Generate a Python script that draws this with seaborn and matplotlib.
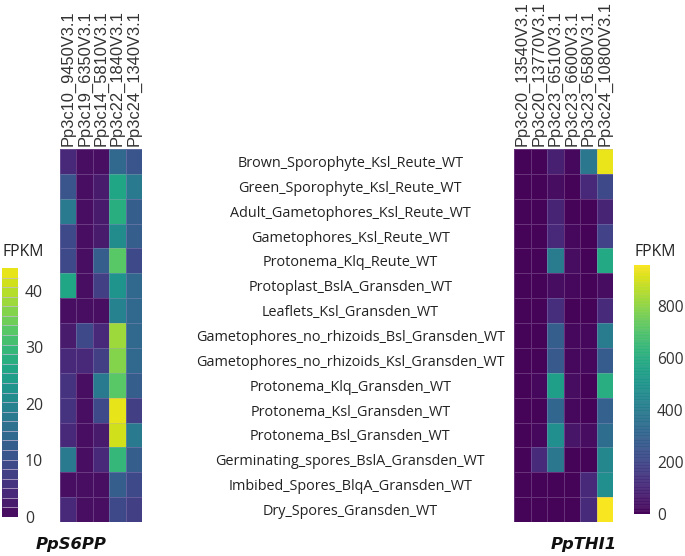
import matplotlib
matplotlib.use('Agg')
import matplotlib.pyplot as plt
import seaborn as sns
import pandas as pd

# sample labels, top to bottom
samples = ['Brown_Sporophyte_Ksl_Reute_WT', 'Green_Sporophyte_Ksl_Reute_WT',
           'Adult_Gametophores_Ksl_Reute_WT', 'Gametophores_Ksl_Reute_WT',
           'Protonema_Klq_Reute_WT', 'Protoplast_BslA_Gransden_WT',
           'Leaflets_Ksl_Gransden_WT', 'Gametophores_no_rhizoids_Bsl_Gransden_WT',
           'Gametophores_no_rhizoids_Ksl_Gransden_WT', 'Protonema_Klq_Gransden_WT',
           'Protonema_Ksl_Gransden_WT', 'Protonema_Bsl_Gransden_WT',
           'Germinating_spores_BslA_Gransden_WT', 'Imbibed_Spores_BlqA_Gransden_WT',
           'Dry_Spores_Gransden_WT']

# PpS6PP genes
s6pp_genes = ['Pp3c10_9450V3.1', 'Pp3c19_6350V3.1', 'Pp3c14_5810V3.1',
              'Pp3c22_1840V3.1', 'Pp3c24_1340V3.1']
c10_9450 = [4, 11, 18, 10, 10, 27, 0.3, 3, 4, 6, 6, 5, 17, 1.5, 5]
c19_6350 = [0.3, 0.2, 1.5, 0.2, 0.2, 0.5, 0.3, 10, 4, 0.2, 0.2, 0.2, 0.2, 0.3, 0.2]
c14_5810 = [0.2, 2.5, 2.5, 2.5, 13, 7, 1.5, 4, 7, 18, 10, 2.5, 5, 0.3, 0.3]
c22_1840 = [15, 27, 28, 21, 33, 23, 19, 38.5, 36.5, 33, 44, 42, 29.5, 13, 9]
c24_1340 = [11, 18, 12, 12, 10, 14, 14, 15, 14, 12, 8, 18.5, 12, 10, 8]

# PpTHI1 genes
thi1_genes = ['Pp3c20_13540V3.1', 'Pp3c20_13770V3.1', 'Pp3c23_6510V3.1',
              'Pp3c23_6600V3.1', 'Pp3c23_6580V3.1', 'Pp3c24_10800V3.1']
c20_13540 = [2, 2, 2, 2, 2, 2, 2, 2, 2, 2, 2, 2, 2, 2, 2]
c20_13770 = [2, 2, 2, 2, 2, 2, 2, 2, 2, 15, 2, 20, 110, 2, 2]
c23_6510 = [80, 30, 90, 100, 400, 30, 120, 280, 260, 540, 310, 470, 380, 5, 5]
c23_6600 = [15, 5, 5, 15, 30, 15, 5, 20, 20, 25, 20, 50, 5, 5, 5]
c23_6580 = [380, 100, 2, 5, 5, 10, 5, 15, 15, 10, 10, 30, 5, 100, 110]
c24_10800 = [930, 210, 90, 190, 580, 30, 110, 400, 270, 600, 290, 340, 440, 470, 960]

left_ticks = [0, 10, 20, 30, 40]
right_ticks = [0, 200, 400, 600, 800]

df_s6pp = pd.DataFrame(dict(zip(s6pp_genes, [c10_9450, c19_6350, c14_5810, c22_1840, c24_1340])), index=samples)
df_thi1 = pd.DataFrame(dict(zip(thi1_genes, [c20_13540, c20_13770, c23_6510, c23_6600, c23_6580, c24_10800])), index=samples)

W, H = 685, 556


def box(x0, y0, x1, y1):
    # pixel box (top-left origin) to figure fractions
    return [x0 / W, 1 - y1 / H, (x1 - x0) / W, (y1 - y0) / H]


fig = plt.figure(figsize=(W / 100, H / 100), dpi=100)
ax1 = fig.add_axes(box(60, 149, 142, 522))
ax2 = fig.add_axes(box(514, 149, 613, 522))
cax1 = fig.add_axes(box(2, 268, 18, 517))
cax2 = fig.add_axes(box(634, 265, 650, 514))

grid = (0.72, 0.62, 0.80, 0.3)  # faint lilac cell borders
sns.heatmap(df_s6pp, ax=ax1, cbar_ax=cax1, cmap=sns.color_palette('viridis', 26), vmin=0, vmax=44,
            linewidths=0.6, linecolor=grid, xticklabels=True, yticklabels=True,
            cbar_kws={'ticks': left_ticks, 'drawedges': True})
sns.heatmap(df_thi1, ax=ax2, cbar_ax=cax2, cmap=sns.color_palette('viridis', 90), vmin=0, vmax=960,
            linewidths=0.6, linecolor=grid, xticklabels=True, yticklabels=False,
            cbar_kws={'ticks': right_ticks, 'drawedges': True})

for ax in (ax1, ax2):
    ax.xaxis.tick_top()
    ax.tick_params(axis='x', length=0, pad=2, labelrotation=90)
    for t in ax.get_xticklabels():
        t.set_fontfamily('Liberation Sans')
        t.set_fontsize(11.9)
        t.set_color('#333333')
        t.set_ha('center')

# sample names sit between the two panels
ax1.yaxis.tick_right()
ax1.tick_params(axis='y', length=0, pad=150, labelrotation=0)
for t in ax1.get_yticklabels():
    t.set_fontfamily('Open Sans')
    t.set_fontsize(10.4)
    t.set_color('#222222')
    t.set_ha('center')

for cax, size in ((cax1, 11.4), (cax2, 11.2)):
    cax.tick_params(length=0, pad=5)
    for t in cax.get_yticklabels():
        t.set_fontfamily('Open Sans')
        t.set_fontsize(size)
        t.set_color('#333333')

ax1.collections[0].colorbar.dividers.set_color('#c9bcd6')
ax1.collections[0].colorbar.dividers.set_linewidth(0.5)
ax2.collections[0].colorbar.dividers.set_color('#c9bcd6')
ax2.collections[0].colorbar.dividers.set_linewidth(0.1)

fig.text(2 / W, 1 - 252 / H, 'FPKM', fontfamily='Open Sans', fontsize=11.3, color='#222222', va='center')
fig.text(634 / W, 1 - 252 / H, 'FPKM', fontfamily='Open Sans', fontsize=11.3, color='#222222', va='center')
fig.text(71 / W, 1 - 544 / H, 'PpS6PP', fontfamily='DejaVu Sans', fontweight='bold', fontstyle='italic',
         fontsize=11.8, color='#111111', ha='center', va='center')
fig.text(584 / W, 1 - 544 / H, 'PpTHI1', fontfamily='DejaVu Sans', fontweight='bold', fontstyle='italic',
         fontsize=11.8, color='#111111', ha='center', va='center')

fig.savefig('out.png', dpi=100)
